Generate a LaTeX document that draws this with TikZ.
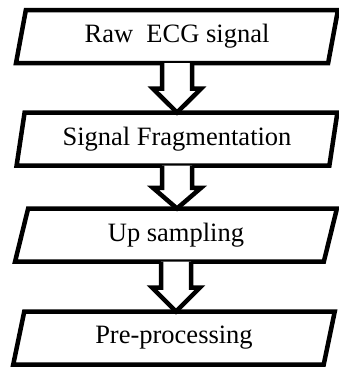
\documentclass[tikz,border=0pt]{standalone}
\usepackage{fontspec}
\setmainfont{Liberation Serif}
\usetikzlibrary{shapes.geometric,calc}
\tikzset{
  flowbox/.style={trapezium, trapezium left angle=76, trapezium right angle=104,
    trapezium stretches=true, minimum width=322pt, minimum height=53pt,
    draw, line width=4.5pt, inner sep=0pt, outer sep=0pt,
    font=\fontsize{26.5}{30}\selectfont},
  arrowline/.style={draw, line width=4.5pt, fill=white}
}
\newcommand{\hollowarrow}[2]{%
  \coordinate (#1top) at (#1.south -| #1.center);
  \coordinate (#1tip) at (#2.north -| #1.center);
  \coordinate (#1mid) at ($(#1top)!0.52!(#1tip)$);
  \draw[arrowline] ($(#1top)+(-15,0)$) -- ($(#1mid)+(-15,0)$) -- ($(#1mid)+(-24,0)$)
    -- (#1tip) -- ($(#1mid)+(24,0)$) -- ($(#1mid)+(15,0)$) -- ($(#1top)+(15,0)$);
}
\begin{document}
\begin{tikzpicture}[x=1pt,y=-1pt]
\useasboundingbox (0,0) rectangle (339,372);
\node[flowbox] (a) at (177,36.5) {Raw\ \ ECG signal};
\node[flowbox] (b) at (177,139) {Signal Fragmentation};
\node[flowbox] (c) at (176,235) {Up sampling};
\node[flowbox] (d) at (174,338) {Pre-processing};
\hollowarrow{a}{b}
\hollowarrow{b}{c}
\hollowarrow{c}{d}
\end{tikzpicture}
\end{document}
